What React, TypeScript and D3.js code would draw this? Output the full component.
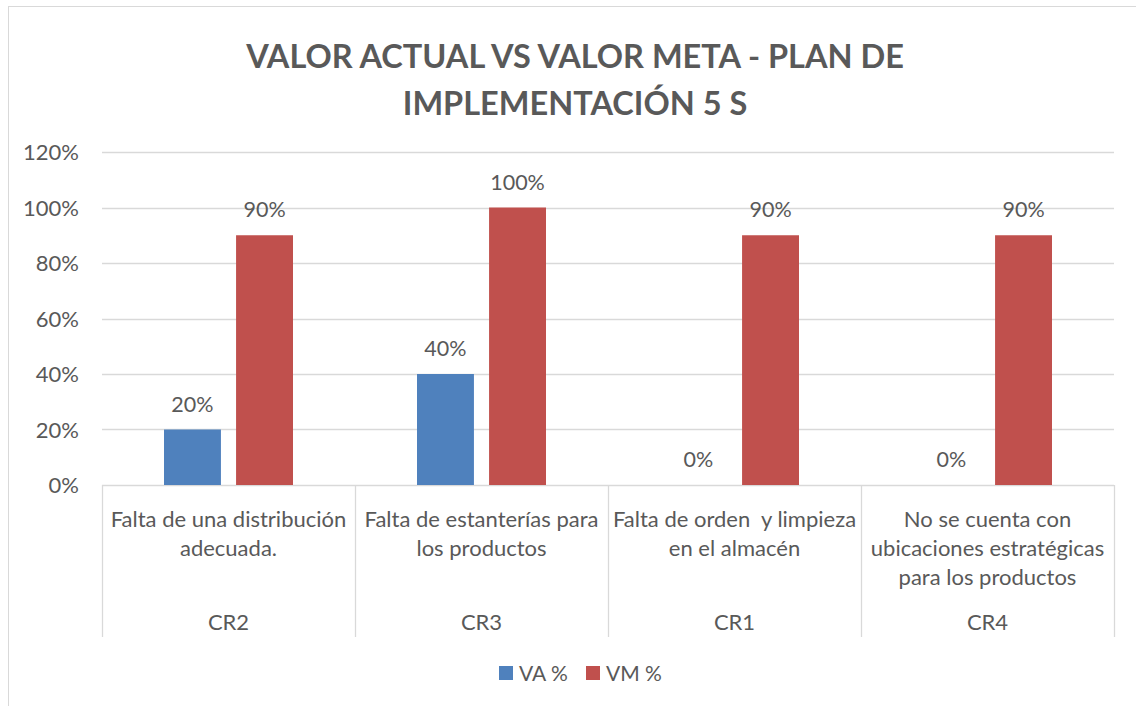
import React, { useEffect, useRef } from 'react';
import * as d3 from 'd3';

const categories = ['CR2', 'CR3', 'CR1', 'CR4'];
const descriptions = [
  ['Falta de una distribución', 'adecuada.'],
  ['Falta de estanterías para', 'los productos'],
  ['Falta de orden  y limpieza', 'en el almacén'],
  ['No se cuenta con', 'ubicaciones estratégicas', 'para los productos'],
];
const series = ['VA %', 'VM %'];
const vaValues = [0.2, 0.4, 0, 0];
const vmValues = [0.9, 1.0, 0.9, 0.9];
const yTicks = [0, 0.2, 0.4, 0.6, 0.8, 1.0, 1.2];
const colors = ['#4f81bd', '#c0504d'];

const FONT = 'Lato, "Open Sans", sans-serif';
const TXT = '#595959';

const App = () => {
  const svgRef = useRef<SVGSVGElement>(null);

  useEffect(() => {
    const svg = d3.select(svgRef.current);
    svg.selectAll('*').remove();
    svg.attr('width', 1136).attr('height', 706);

    const left = 102, right = 1114, top = 152, bottom = 485;

    // outer border
    svg.append('rect')
      .attr('x', 8.5).attr('y', 6.5)
      .attr('width', 1140).attr('height', 710)
      .attr('fill', '#fff')
      .attr('stroke', '#d9d9d9');

    // title
    const titleLines = ['VALOR ACTUAL VS VALOR META - PLAN DE', 'IMPLEMENTACIÓN 5 S'];
    titleLines.forEach((t, i) => {
      svg.append('text')
        .attr('x', 575).attr('y', 68 + i * 47)
        .attr('text-anchor', 'middle')
        .style('font-family', FONT).style('font-weight', 'bold').style('font-size', '32.5px')
        .attr('fill', TXT)
        .text(t);
    });

    const x0 = d3.scaleBand().domain(categories).range([left, right]).padding(0);
    const x1 = d3.scaleBand().domain(series)
      .range([62, x0.bandwidth() - 62]).paddingInner(0.21);
    const y = d3.scaleLinear().domain([0, 1.2]).range([bottom, top]);

    // gridlines
    svg.append('g').selectAll('line').data(yTicks).enter().append('line')
      .attr('x1', left).attr('x2', right)
      .attr('y1', d => Math.round(y(d)) + 0.5).attr('y2', d => Math.round(y(d)) + 0.5)
      .attr('stroke', '#d9d9d9').attr('stroke-width', 1.3);

    // y labels
    svg.append('g').selectAll('text').data(yTicks).enter().append('text')
      .attr('x', 79).attr('y', d => y(d) + 8)
      .attr('text-anchor', 'end')
      .style('font-family', FONT).style('font-size', '22px')
      .attr('fill', TXT)
      .text(d => `${Math.round(d * 100)}%`);

    // bars
    const rows = categories.map((c, i) => ({ c, vals: [vaValues[i], vmValues[i]] }));
    const groups = svg.append('g').selectAll('g').data(rows).enter().append('g')
      .attr('transform', d => `translate(${x0(d.c)},0)`);
    groups.selectAll('rect')
      .data(d => d.vals.map((v, j) => ({ s: series[j], v, j })))
      .enter().append('rect')
      .attr('x', d => x1(d.s)!)
      .attr('y', d => y(d.v))
      .attr('width', x1.bandwidth())
      .attr('height', d => bottom - y(d.v))
      .attr('fill', d => colors[d.j]);
    groups.selectAll('text.lbl')
      .data(d => d.vals.map((v, j) => ({ s: series[j], v, j })))
      .enter().append('text')
      .attr('class', 'lbl')
      .attr('x', d => x1(d.s)! + x1.bandwidth() / 2)
      .attr('y', d => y(d.v) - 18)
      .attr('text-anchor', 'middle')
      .style('font-family', FONT).style('font-size', '21.5px')
      .attr('fill', TXT)
      .text(d => `${Math.round(d.v * 100)}%`);

    // category separators
    const seps = [...categories.map(c => x0(c)!), right];
    svg.append('g').selectAll('line').data(seps).enter().append('line')
      .attr('x1', d => Math.round(d) + 0.5).attr('x2', d => Math.round(d) + 0.5)
      .attr('y1', bottom).attr('y2', 637)
      .attr('stroke', '#d9d9d9').attr('stroke-width', 1.3);

    // category labels
    const catG = svg.append('g').selectAll('g').data(categories).enter().append('g')
      .attr('transform', c => `translate(${x0(c)! + x0.bandwidth() / 2},0)`);
    catG.each(function (c, i) {
      const g = d3.select(this);
      descriptions[i].forEach((line, k) => {
        g.append('text')
          .attr('y', 527 + k * 29)
          .attr('text-anchor', 'middle')
          .style('font-family', FONT).style('font-size', '22px')
          .attr('fill', TXT)
          .style('white-space', 'pre')
          .text(line);
      });
      g.append('text')
        .attr('y', 630)
        .attr('text-anchor', 'middle')
        .style('font-family', FONT).style('font-size', '22px')
        .attr('fill', TXT)
        .text(c);
    });

    // legend
    const legend = svg.append('g');
    const legX = [499, 586];
    series.forEach((s, i) => {
      legend.append('rect')
        .attr('x', legX[i]).attr('y', 666)
        .attr('width', 14).attr('height', 14)
        .attr('fill', colors[i]);
      legend.append('text')
        .attr('x', legX[i] + 20).attr('y', 681)
        .style('font-family', FONT).style('font-size', '21px')
        .attr('fill', TXT)
        .text(s);
    });
  }, []);

  return <svg ref={svgRef} style={{ position: 'absolute', left: 0, top: 0 }}></svg>;
};

export default App;
